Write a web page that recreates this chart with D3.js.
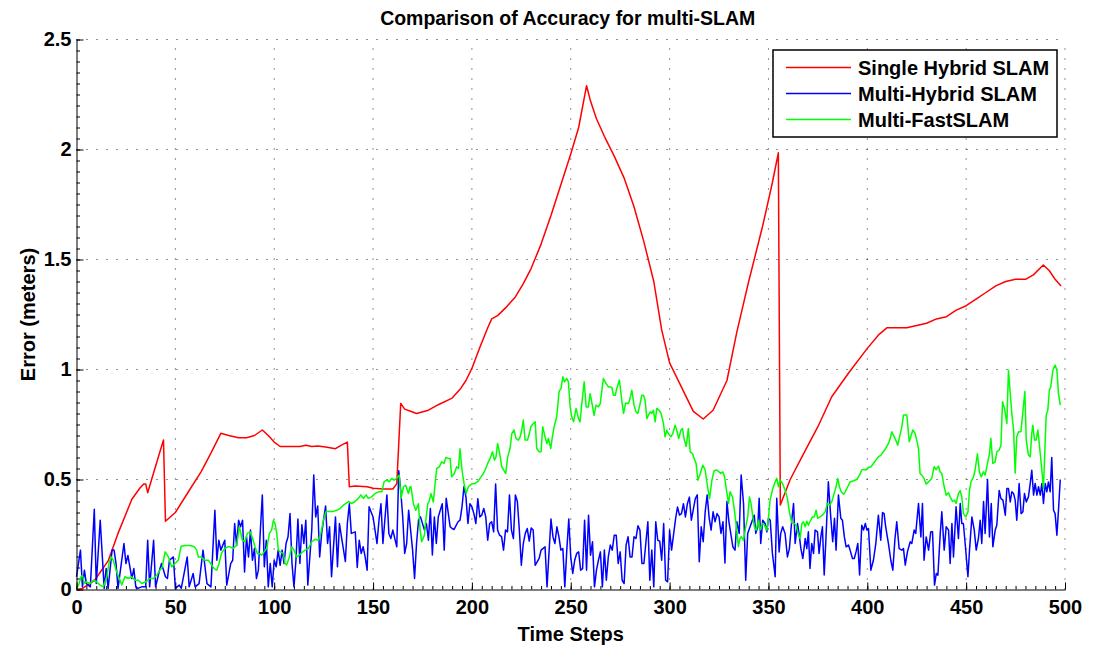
<!DOCTYPE html>
<html>
<head>
<meta charset="utf-8">
<script src="https://cdn.jsdelivr.net/npm/d3@7"></script>
<style>
  body { margin: 0; background: #fff; }
  svg text { font-family: "Liberation Sans", Arial, Helvetica, sans-serif; font-weight: bold; fill: #000; }
</style>
</head>
<body>
<div id="chart"></div>
<script>
// each entry: [time step, error in meters]
const singleHybrid = [
  [0,0.0],[3,0.005],[9,0.04],[16,0.13],[21,0.255],[28,0.41],[32,0.46],[34,0.48],[35,0.48],[36,0.44],
  [40,0.56],[44,0.68],[45,0.31],[50,0.35],[57,0.45],[63,0.535],[68,0.62],[73,0.71],[77,0.70],[82,0.69],
  [86,0.69],[90,0.70],[94,0.725],[97,0.70],[100,0.67],[103,0.65],[108,0.65],[113,0.65],[116,0.656],[119,0.65],
  [122,0.652],[126,0.648],[131,0.64],[134,0.656],[137,0.67],[138,0.467],[141,0.47],[147,0.467],[150,0.46],[155,0.457],
  [160,0.457],[162,0.48],[164,0.846],[166,0.82],[169,0.81],[172,0.80],[178,0.815],[183,0.84],[190,0.87],[194,0.91],
  [197,0.95],[200,1.005],[204,1.1],[208,1.19],[210,1.23],[213,1.245],[217,1.28],[222,1.33],[226,1.39],[230,1.46],
  [235,1.57],[240,1.70],[245,1.84],[250,1.98],[254,2.1],[258,2.29],[260,2.22],[263,2.14],[267,2.06],[272,1.97],
  [277,1.87],[282,1.74],[287,1.58],[292,1.40],[296,1.18],[300,1.03],[306,0.92],[312,0.81],[317,0.775],[322,0.815],
  [329,0.95],[334,1.17],[340,1.4],[347,1.65],[352,1.85],[355,1.985],[356,0.384],[361,0.5],[367,0.604],[375,0.74],
  [382,0.876],[391,0.99],[400,1.096],[406,1.16],[410,1.19],[415,1.19],[420,1.19],[425,1.2],[430,1.21],[435,1.23],
  [440,1.24],[445,1.27],[450,1.29],[455,1.32],[460,1.35],[465,1.38],[470,1.40],[475,1.41],[480,1.41],[484,1.43],
  [489,1.475],[492,1.45],[495,1.41],[498,1.38]
];

const multiHybrid = [
  [0,0.058],[2,0.179],[3,0.012],[4,0.088],[5,0.027],[7,0.012],[9,0.365],[10,0.027],[12,0.315],[14,0.005],
  [15,0.095],[16,0.005],[18,0.179],[19,0.179],[20,0.118],[21,0.005],[24,0.209],[25,0.118],[26,0.155],[28,0.05],
  [29,0.095],[30,0.012],[31,0.005],[33,0.012],[35,0.012],[36,0.224],[37,0.012],[39,0.224],[40,0.012],[41,0.05],
  [42,0.088],[43,0.118],[45,0.058],[46,0.05],[47,0.133],[49,0.148],[50,0.005],[52,0.02],[53,0.005],[56,0.148],
  [57,0.012],[59,0.073],[60,0.012],[62,0.027],[64,0.179],[66,0.027],[68,0.012],[70,0.36],[71,0.133],[72,0.224],
  [73,0.179],[75,0.224],[76,0.02],[78,0.118],[79,0.133],[80,0.30],[81,0.2],[82,0.315],[83,0.285],[84,0.315],
  [85,0.08],[86,0.24],[87,0.148],[88,0.27],[89,0.133],[90,0.186],[91,0.05],[92,0.088],[93,0.27],[94,0.43],
  [95,0.103],[96,0.224],[97,0.012],[98,0.118],[99,0.012],[100,0.133],[101,0.103],[102,0.179],[103,0.11],[104,0.179],
  [105,0.118],[106,0.209],[107,0.24],[108,0.345],[109,0.118],[110,0.012],[111,0.133],[112,0.32],[113,0.118],[114,0.294],
  [115,0.209],[116,0.315],[117,0.02],[119,0.27],[120,0.52],[121,0.33],[122,0.38],[123,0.148],[124,0.255],[126,0.38],
  [127,0.209],[128,0.285],[129,0.058],[131,0.33],[132,0.103],[133,0.30],[134,0.24],[136,0.127],[137,0.30],[138,0.39],
  [139,0.255],[141,0.262],[142,0.1],[143,0.224],[144,0.164],[145,0.194],[146,0.148],[147,0.088],[148,0.376],[150,0.33],
  [151,0.27],[152,0.209],[153,0.315],[154,0.39],[155,0.209],[157,0.43],[158,0.255],[159,0.232],[160,0.27],[162,0.194],
  [163,0.54],[164,0.45],[165,0.33],[166,0.164],[167,0.209],[168,0.36],[170,0.179],[171,0.05],[172,0.209],[173,0.315],
  [174,0.33],[176,0.27],[177,0.3],[178,0.224],[179,0.368],[180,0.157],[181,0.33],[182,0.209],[183,0.33],[185,0.39],
  [186,0.179],[187,0.415],[189,0.285],[190,0.277],[191,0.273],[193,0.308],[194,0.315],[195,0.376],[196,0.468],[197,0.42],
  [198,0.30],[199,0.39],[200,0.376],[201,0.345],[202,0.30],[203,0.413],[204,0.33],[205,0.338],[206,0.368],[207,0.33],
  [208,0.224],[209,0.30],[210,0.308],[211,0.262],[212,0.48],[213,0.27],[214,0.247],[215,0.24],[216,0.179],[217,0.27],
  [218,0.262],[219,0.43],[220,0.27],[221,0.232],[222,0.43],[223,0.4],[224,0.27],[225,0.11],[226,0.209],[227,0.255],
  [228,0.277],[229,0.22],[230,0.28],[231,0.27],[232,0.11],[234,0.141],[235,0.179],[237,0.194],[238,0.012],[240,0.32],
  [241,0.24],[242,0.209],[243,0.285],[244,0.24],[245,0.179],[246,0.186],[247,0.012],[248,0.179],[249,0.32],[250,0.148],
  [251,0.073],[252,0.133],[253,0.164],[254,0.171],[255,0.088],[256,0.095],[257,0.315],[258,0.088],[259,0.338],[260,0.156],
  [261,0.217],[262,0.012],[263,0.088],[264,0.133],[265,0.171],[266,0.012],[267,0.179],[268,0.042],[269,0.148],[270,0.202],
  [271,0.179],[272,0.247],[273,0.247],[274,0.118],[275,0.171],[276,0.042],[277,0.027],[278,0.202],[279,0.24],[280,0.148],
  [281,0.148],[282,0.24],[283,0.232],[284,0.29],[285,0.27],[286,0.118],[287,0.118],[289,0.308],[290,0.042],[291,0.179],
  [292,0.012],[293,0.308],[294,0.224],[295,0.22],[296,0.133],[297,0.3],[298,0.042],[299,0.035],[300,0.27],[301,0.179],
  [303,0.32],[304,0.375],[305,0.338],[306,0.345],[307,0.39],[308,0.33],[309,0.39],[310,0.42],[311,0.315],[313,0.413],
  [314,0.43],[315,0.126],[316,0.285],[317,0.217],[318,0.353],[319,0.43],[320,0.327],[321,0.27],[322,0.353],[323,0.308],
  [324,0.345],[325,0.33],[326,0.255],[327,0.308],[328,0.12],[329,0.4],[330,0.308],[332,0.194],[333.1,0.179],[334,0.308],
  [335.2,0.255],[336.2,0.52],[337.4,0.391],[338.5,0.042],[339.5,0.255],[340.7,0.285],[341.6,0.308],[342.8,0.338],[343.6,0.255],[344.6,0.285],
  [345.3,0.415],[346.1,0.209],[347.1,0.315],[348.3,0.3],[349.2,0.262],[350,0.324],[350.9,0.315],[352,0.164],[353.4,0.058],[354.2,0.415],
  [355.4,0.171],[356.2,0.255],[357.2,0.285],[358.4,0.255],[359.6,0.148],[360.6,0.186],[361.8,0.315],[362.7,0.391],[363.5,0.209],[364.7,0.3],
  [365.7,0.239],[366.4,0.186],[367.4,0.141],[368.6,0.232],[369.4,0.186],[370.2,0.262],[371,0.096],[371.9,0.209],[372.8,0.164],[373.6,0.27],
  [374.8,0.262],[375.6,0.164],[376.5,0.239],[377.3,0.285],[378.2,0.066],[379.2,0.255],[380.3,0.49],[381.5,0.33],[382.5,0.217],[383.4,0.324],
  [384.2,0.179],[385.4,0.43],[386.6,0.324],[387.4,0.315],[388.4,0.239],[389.3,0.194],[390.5,0.202],[391.3,0.179],[392.5,0.141],[393.4,0.141],
  [394.3,0.171],[395.2,0.209],[396.1,0.066],[397.2,0.292],[398.1,0.27],[399,0.3],[399.8,0.27],[400.6,0.277],[401.8,0.088],[403.1,0.133],
  [404.3,0.209],[405.6,0.338],[406.8,0.224],[407.7,0.35],[408.5,0.345],[409.3,0.285],[410.7,0.209],[411.9,0.133],[412.9,0.088],[414,0.232],
  [414.9,0.308],[416.1,0.186],[417.5,0.179],[418.3,0.186],[419.2,0.111],[420.3,0.171],[421.7,0.217],[422.5,0.209],[423.7,0.27],[424.5,0.255],
  [425.9,0.391],[427.1,0.239],[427.9,0.391],[428.7,0.133],[429.8,0.239],[431,0.179],[432.1,0.262],[433,0.262],[434,0.02],[434.9,0.073],
  [435.7,0.065],[436.9,0.255],[437.7,0.353],[438.9,0.179],[439.9,0.285],[441.1,0.27],[441.9,0.118],[442.8,0.3],[443.6,0.148],[444.9,0.376],
  [446.1,0.232],[447,0.391],[447.8,0.3],[448.6,0.3],[449.5,0.209],[450.9,0.058],[451.7,0.179],[452.9,0.33],[454.1,0.27],[455.1,0.179],
  [456.2,0.232],[457.1,0.315],[457.9,0.209],[458.8,0.4],[459.6,0.255],[460.8,0.5],[461.8,0.239],[462.7,0.391],[463.5,0.194],[464.7,0.27],
  [465.5,0.292],[466.7,0.45],[467.6,0.413],[468.6,0.406],[469.8,0.338],[470.6,0.459],[471.4,0.459],[472.3,0.398],[473.1,0.444],[474,0.436],
  [474.8,0.406],[475.6,0.315],[476.8,0.482],[477.8,0.345],[478.7,0.353],[479.5,0.436],[480.4,0.398],[481.5,0.421],[482.4,0.482],[483.2,0.542],
  [484.1,0.429],[484.9,0.482],[485.8,0.429],[486.6,0.467],[487.5,0.429],[488.3,0.482],[489.1,0.391],[490,0.482],[490.8,0.444],[491.6,0.489],
  [492.5,0.444],[493.3,0.6],[494.2,0.36],[495,0.345],[495.9,0.247],[496.7,0.36],[497.6,0.5]
];

const multiFast = [
  [0.1,0.005],[1.3,0.027],[2.3,0.058],[3,0.065],[4,0.027],[5.1,0.035],[6.8,0.027],[8.5,0.042],[10.2,0.035],[11.9,0.02],
  [13.6,0.012],[15.3,0.058],[16.4,0.118],[17.5,0.148],[18.6,0.133],[20.3,0.08],[22,0.042],[22.9,0.02],[24.5,0.058],[26.2,0.05],
  [27.9,0.058],[29.6,0.042],[31.3,0.042],[33,0.027],[35,0.035],[37.2,0.05],[38.9,0.05],[40.6,0.065],[42.2,0.088],[43.4,0.103],
  [44.8,0.171],[46.5,0.148],[48.1,0.103],[49.8,0.118],[51.5,0.133],[52.9,0.197],[54.9,0.2],[57.4,0.2],[59.6,0.194],[60.8,0.179],
  [61.6,0.148],[63,0.148],[65,0.133],[66.7,0.133],[68.4,0.111],[69.7,0.095],[70.9,0.088],[72.1,0.118],[73.4,0.167],[75.1,0.186],
  [76.5,0.194],[77.7,0.194],[79.3,0.186],[81,0.202],[82.4,0.285],[83.9,0.224],[85.2,0.217],[86.4,0.255],[87.8,0.262],[89.1,0.232],
  [90.3,0.194],[91.5,0.164],[92.5,0.164],[93.7,0.156],[94.9,0.171],[96.2,0.186],[97.6,0.255],[98.7,0.27],[99.6,0.315],[100.4,0.3],
  [101.3,0.255],[102.1,0.179],[103,0.171],[104.6,0.164],[105.5,0.118],[106.3,0.111],[107.7,0.148],[108.9,0.194],[110,0.179],[111.4,0.148],
  [112.7,0.156],[113.9,0.167],[115.6,0.179],[117.3,0.186],[119,0.217],[120.7,0.228],[122.3,0.224],[123.6,0.255],[124.9,0.315],[126.2,0.354],
  [127.9,0.354],[129.6,0.354],[131.6,0.36],[133.3,0.368],[135,0.383],[136.3,0.391],[137.5,0.4],[139.2,0.391],[140.9,0.4],[142.6,0.414],
  [143.8,0.43],[145.1,0.414],[146.5,0.43],[147.6,0.414],[149.3,0.421],[151,0.436],[152.7,0.444],[154.4,0.444],[155.6,0.49],[157,0.497],
  [158.1,0.49],[159.5,0.505],[160.6,0.497],[161.9,0.505],[163.2,0.52],[164.2,0.415],[165.4,0.467],[166.5,0.474],[167.9,0.436],[168.7,0.467],
  [169.2,0.467],[170.4,0.39],[171.6,0.36],[173,0.39],[173.8,0.27],[174.6,0.217],[176,0.247],[176.6,0.308],[177.7,0.39],[178.3,0.398],
  [179.3,0.436],[180.5,0.398],[181.4,0.482],[182.2,0.55],[183.6,0.558],[184.7,0.58],[185.9,0.573],[186.8,0.6],[188.1,0.596],[189,0.596],
  [189.8,0.512],[191.1,0.527],[192.3,0.558],[193.2,0.55],[194,0.64],[194.9,0.55],[196,0.482],[197.1,0.436],[198.2,0.467],[199.9,0.48],
  [201.6,0.482],[202.9,0.49],[204.6,0.512],[205.8,0.527],[207,0.55],[208,0.573],[209.2,0.596],[210.4,0.626],[211.4,0.588],[212.2,0.603],
  [213,0.664],[213.9,0.626],[215.1,0.558],[216.1,0.543],[217.1,0.527],[218.1,0.603],[219.3,0.641],[220.2,0.709],[221.3,0.725],[222.3,0.687],
  [223.5,0.679],[224.4,0.694],[225.2,0.725],[226,0.77],[226.9,0.679],[228.1,0.679],[228.9,0.702],[229.8,0.74],[231.1,0.755],[232,0.762],
  [232.8,0.641],[234,0.626],[235,0.626],[235.8,0.74],[237,0.694],[237.9,0.664],[238.7,0.687],[239.9,0.641],[240.7,0.694],[241.6,0.74],
  [242.9,0.785],[244.1,0.9],[245.1,0.914],[246,0.967],[246.8,0.944],[248,0.959],[248.8,0.944],[249.7,0.83],[250.5,0.785],[251.4,0.762],
  [252.7,0.823],[253.9,0.778],[254.7,0.762],[255.6,0.845],[256.8,0.944],[257.8,0.83],[258.9,0.83],[259.8,0.89],[260.6,0.853],[261.8,0.792],
  [262.8,0.838],[264,0.83],[264.9,0.845],[266.5,0.959],[267.9,0.936],[269.1,0.921],[269.9,0.921],[270.8,0.918],[271.6,0.883],[272.5,0.883],
  [273.3,0.914],[274.6,0.952],[275.8,0.861],[276.7,0.8],[277.8,0.848],[279.2,0.845],[280,0.868],[280.9,0.906],[282,0.838],[283,0.808],
  [283.9,0.8],[285.1,0.845],[285.9,0.883],[286.8,0.883],[287.6,0.861],[288.5,0.777],[289.3,0.792],[290.2,0.808],[291,0.8],[291.8,0.815],
  [292.7,0.762],[293.5,0.823],[294.7,0.815],[295.7,0.8],[296.9,0.755],[297.7,0.694],[298.6,0.724],[299.4,0.709],[300.6,0.694],[301.6,0.709],
  [302.8,0.747],[303.6,0.724],[304.6,0.686],[305.7,0.724],[306.5,0.732],[307.3,0.686],[308.4,0.65],[309.5,0.732],[310.4,0.626],[311.6,0.618],
  [312.4,0.596],[313.4,0.573],[314.3,0.497],[315.5,0.527],[316.8,0.565],[318,0.543],[319.2,0.467],[320.2,0.414],[321.4,0.497],[322.5,0.54],
  [323.9,0.543],[325,0.535],[325.9,0.527],[326.9,0.535],[327.8,0.512],[328.9,0.444],[329.8,0.391],[330.6,0.444],[331.8,0.421],[332.8,0.36],
  [334,0.27],[334.8,0.195],[335.6,0.232],[336.2,0.24],[337.4,0.224],[338.5,0.285],[339.5,0.33],[340.4,0.42],[341.2,0.39],[342.1,0.33],
  [342.9,0.285],[343.8,0.27],[345,0.315],[345.8,0.27],[347,0.3],[348,0.292],[349.2,0.27],[350,0.324],[350.8,0.406],[352.2,0.459],
  [353.4,0.49],[354.2,0.505],[355.1,0.467],[355.9,0.497],[357.1,0.482],[358.4,0.452],[359.6,0.414],[360.6,0.353],[361.8,0.303],[363.1,0.3],
  [364,0.292],[365.2,0.247],[366,0.232],[366.9,0.3],[367.7,0.308],[368.6,0.285],[369.4,0.31],[370.2,0.292],[371,0.308],[372.2,0.33],
  [373.2,0.33],[374.1,0.36],[374.9,0.324],[376.1,0.33],[377.3,0.338],[378.7,0.353],[379.8,0.391],[380.9,0.383],[382,0.398],[383.2,0.436],
  [384.2,0.467],[385.1,0.505],[385.9,0.467],[386.8,0.444],[388,0.433],[388.8,0.444],[390.1,0.467],[391.3,0.489],[393,0.494],[394.7,0.5],
  [396.1,0.52],[397.2,0.543],[398.4,0.546],[399.2,0.543],[400.6,0.555],[401.9,0.558],[403.1,0.573],[404.3,0.588],[405.6,0.603],[406.9,0.611],
  [408.1,0.626],[409.3,0.641],[410.7,0.664],[411.6,0.686],[412.4,0.717],[413.2,0.702],[414.4,0.679],[415.4,0.656],[416.3,0.694],[417.5,0.74],
  [418.3,0.793],[420,0.793],[421.2,0.672],[422,0.694],[423,0.725],[424.2,0.709],[425,0.679],[425.9,0.641],[426.7,0.527],[427.5,0.52],
  [428.7,0.505],[429.8,0.479],[431,0.49],[432.6,0.505],[433.8,0.558],[434.8,0.545],[436,0.561],[436.8,0.535],[437.7,0.527],[438.9,0.467],
  [439.9,0.429],[441.1,0.44],[441.9,0.421],[443.1,0.4],[444.1,0.406],[444.9,0.391],[446.1,0.436],[447,0.449],[447.8,0.421],[448.6,0.345],
  [449.8,0.33],[450.9,0.353],[451.7,0.452],[452.5,0.49],[453.7,0.512],[454.5,0.542],[455.7,0.617],[456.7,0.535],[457.6,0.512],[458.8,0.535],
  [459.6,0.52],[460.8,0.573],[461.8,0.618],[462.5,0.687],[463.5,0.573],[464.7,0.58],[465.5,0.626],[466.7,0.634],[467.6,0.656],[468.4,0.853],
  [469.4,0.823],[470.6,0.755],[471.4,0.997],[472.3,0.891],[473.1,0.8],[474,0.724],[474.8,0.528],[475.6,0.694],[476.5,0.717],[477.7,0.717],
  [478.7,0.808],[479.7,0.9],[480.4,0.679],[481.5,0.611],[482.4,0.603],[483.2,0.709],[483.7,0.747],[484.6,0.679],[485.4,0.679],[486.3,0.725],
  [487.5,0.617],[488.3,0.542],[489.1,0.46],[490,0.679],[490.5,0.793],[491.3,0.815],[492.1,0.907],[492.8,0.921],[493.9,0.998],[495,1.02],
  [495.9,0.997],[496.7,0.891],[497.6,0.838]
];

const seriesNames = ["Single Hybrid SLAM", "Multi-Hybrid SLAM", "Multi-FastSLAM"];
const seriesColors = ["#ff0000", "#0000ff", "#00ff00"];
const xTicks = [0, 50, 100, 150, 200, 250, 300, 350, 400, 450, 500];
const yTicks = [0, 0.5, 1, 1.5, 2, 2.5];

const width = 1094, height = 648;
const margin = { top: 39.5, right: 29, bottom: 58.5, left: 76.5 };

const svg = d3.select("#chart").append("svg")
  .attr("width", width)
  .attr("height", height);

const x = d3.scaleLinear().domain([0, 500]).range([margin.left, width - margin.right]);
const y = d3.scaleLinear().domain([0, 2.5]).range([height - margin.bottom, margin.top]);

// dotted grid
const grid = svg.append("g").attr("class", "grid")
  .attr("stroke", "#222").attr("stroke-width", 1).attr("stroke-dasharray", "1,9");
grid.selectAll(".gx").data(xTicks.slice(1)).enter().append("line")
  .attr("x1", d => x(d)).attr("x2", d => x(d))
  .attr("y1", y(0)).attr("y2", y(2.5));
grid.selectAll(".gy").data(yTicks.slice(1)).enter().append("line")
  .attr("y1", d => y(d)).attr("y2", d => y(d))
  .attr("x1", x(0)).attr("x2", x(500));

// minor ticks
svg.append("g")
  .attr("transform", `translate(0,${y(0)})`)
  .call(d3.axisBottom(x).tickValues(d3.range(0, 501, 5)).tickSize(-3.5).tickFormat(""))
  .call(g => g.select(".domain").remove());
svg.append("g")
  .attr("transform", `translate(${x(0)},0)`)
  .call(d3.axisLeft(y).tickValues(d3.range(0, 2.501, 0.05)).tickSize(-3.5).tickFormat(""))
  .call(g => g.select(".domain").remove());

// data lines
const line = d3.line().x(d => x(d[0])).y(d => y(d[1]));
[singleHybrid, multiHybrid, multiFast].forEach((s, i) => {
  svg.append("path")
    .datum(s)
    .attr("fill", "none")
    .attr("stroke", seriesColors[i])
    .attr("stroke-width", 1.5)
    .attr("stroke-linejoin", "round")
    .attr("d", line);
});

// main axes
const xAxis = svg.append("g")
  .attr("transform", `translate(0,${y(0)})`)
  .call(d3.axisBottom(x).tickValues(xTicks).tickSize(-7).tickSizeOuter(0).tickPadding(10));
const yAxis = svg.append("g")
  .attr("transform", `translate(${x(0)},0)`)
  .call(d3.axisLeft(y).tickValues(yTicks).tickSize(-7).tickSizeOuter(0).tickPadding(5)
    .tickFormat(d => d3.format("")(d)));
[xAxis, yAxis].forEach(g => {
  g.selectAll("text").style("font-size", "20px").attr("font-family", null);
  g.attr("font-family", null).attr("font-size", null);
  g.select(".domain").attr("stroke", "#000");
});

// titles
svg.append("text")
  .attr("x", (x(0) + x(500)) / 2 - 3)
  .attr("y", 25)
  .attr("text-anchor", "middle")
  .style("font-size", "19.5px")
  .text("Comparison of Accuracy for multi-SLAM");

svg.append("text")
  .attr("x", (x(0) + x(500)) / 2)
  .attr("y", 641)
  .attr("text-anchor", "middle")
  .style("font-size", "20px")
  .text("Time Steps");

svg.append("text")
  .attr("transform", `translate(35,${(y(0) + y(2.5)) / 2}) rotate(-90)`)
  .attr("text-anchor", "middle")
  .style("font-size", "20px")
  .text("Error (meters)");

// legend
const legend = svg.append("g").attr("transform", "translate(773,50)");
legend.append("rect")
  .attr("width", 284).attr("height", 87)
  .attr("fill", "#fff").attr("stroke", "#000").attr("stroke-width", 1.5);
seriesNames.forEach((name, i) => {
  const row = legend.append("g").attr("transform", `translate(0,${17.5 + i * 26})`);
  row.append("line")
    .attr("x1", 13).attr("x2", 78)
    .attr("stroke", seriesColors[i]).attr("stroke-width", 1.5);
  row.append("text")
    .attr("x", 85).attr("y", 7)
    .style("font-size", "20px")
    .text(name);
});
</script>
</body>
</html>
